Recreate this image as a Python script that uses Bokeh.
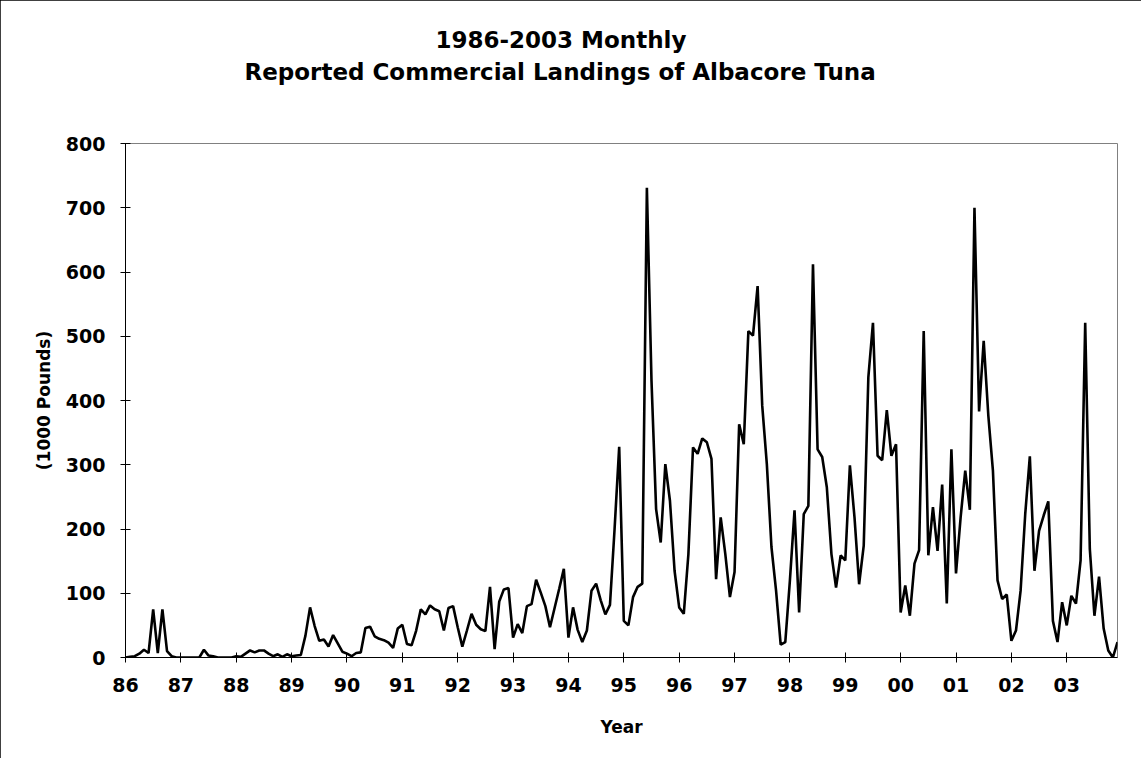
from bokeh.plotting import figure
from bokeh.models import Range1d, FixedTicker, Title, ColumnDataSource
from bokeh.embed import file_html
from bokeh.resources import INLINE

# Monthly landings (1000 pounds), Jan..Dec for each year
y1986 = [0, 1, 2, 6, 12, 7, 75, 7, 75, 10, 2, 0]
y1987 = [0, 0, 0, 0, 0, 12, 3, 2, 0, 0, 0, 0]
y1988 = [2, 1, 6, 11, 8, 11, 11, 6, 2, 5, 1, 5]
y1989 = [2, 3, 4, 34, 78, 49, 26, 28, 17, 35, 22, 9]
y1990 = [6, 2, 7, 8, 46, 48, 33, 29, 27, 23, 15, 45]
y1991 = [51, 21, 19, 42, 75, 67, 81, 75, 72, 42, 77, 80]
y1992 = [47, 17, 42, 68, 51, 44, 41, 110, 13, 87, 106, 108]
y1993 = [31, 52, 38, 80, 83, 121, 101, 80, 47, 77, 107, 138]
y1994 = [31, 78, 43, 24, 42, 104, 115, 89, 67, 82, 200, 328]
y1995 = [57, 50, 94, 110, 115, 731, 431, 231, 179, 301, 244, 135]
y1996 = [78, 68, 161, 327, 317, 341, 335, 309, 122, 218, 161, 94]
y1997 = [133, 363, 332, 508, 501, 578, 392, 301, 172, 104, 20, 24]
y1998 = [120, 229, 70, 223, 236, 612, 324, 312, 265, 161, 109, 159]
y1999 = [151, 299, 218, 114, 174, 436, 521, 314, 307, 385, 314, 332]
y2000 = [70, 112, 65, 146, 167, 508, 159, 234, 166, 269, 84, 324]
y2001 = [131, 218, 291, 230, 700, 383, 493, 377, 291, 120, 91, 98]
y2002 = [26, 42, 104, 223, 313, 135, 197, 221, 243, 57, 24, 86]
y2003 = [50, 96, 84, 151, 521, 169, 65, 126, 45, 11, 0, 24]

tick_labels = ["86", "87", "88", "89", "90", "91", "92", "93", "94",
               "95", "96", "97", "98", "99", "00", "01", "02", "03"]
y_ticks = [0, 100, 200, 300, 400, 500, 600, 700, 800]

values = (y1986 + y1987 + y1988 + y1989 + y1990 + y1991 + y1992 + y1993 + y1994 +
          y1995 + y1996 + y1997 + y1998 + y1999 + y2000 + y2001 + y2002 + y2003)
months = list(range(len(values)))
src = ColumnDataSource(dict(m=months, v=values))

FONT = "DejaVu Sans"

p = figure(width=1141, height=758, output_backend="svg", toolbar_location=None,
           x_range=Range1d(0, len(values) - 1), y_range=Range1d(0, 800),
           min_border_left=125, min_border_right=24, min_border_top=143,
           min_border_bottom=101)
p.styles = {"outline": "1px solid black", "outline-offset": "-1px"}
p.background_fill_color = "white"
p.border_fill_color = "white"
p.outline_line_color = "#808080"
p.outline_line_width = 1
p.xgrid.grid_line_color = None
p.ygrid.grid_line_color = None

p.line("m", "v", source=src, line_color="black", line_width=2.6)

tick_pos = [12 * k for k in range(len(tick_labels))]
p.xaxis.ticker = FixedTicker(ticks=tick_pos)
p.xaxis.major_label_overrides = {pos: lbl for pos, lbl in zip(tick_pos, tick_labels)}
p.yaxis.ticker = FixedTicker(ticks=y_ticks)

for ax in (p.xaxis[0], p.yaxis[0]):
    ax.axis_line_color = "black"
    ax.axis_line_width = 1
    ax.major_tick_line_color = "black"
    ax.major_tick_in = 5
    ax.major_tick_out = 5
    ax.minor_tick_line_color = None
    ax.major_label_text_font = FONT
    ax.major_label_text_font_style = "bold"
    ax.major_label_text_font_size = "19px"
    ax.major_label_text_color = "black"
    ax.axis_label_text_font = FONT
    ax.axis_label_text_font_style = "bold"
    ax.axis_label_text_font_size = "17px"
    ax.axis_label_text_color = "black"

p.xaxis.axis_label = "Year"
p.xaxis.major_label_standoff = 15
p.xaxis.axis_label_standoff = 22
p.yaxis.axis_label = "(1000 Pounds)"
p.yaxis.major_label_standoff = 15
p.yaxis.axis_label_standoff = 9

# Spacer between frame and title, then the two title lines (stacked outward)
p.add_layout(Title(text=" ", text_font_size="1px", standoff=56), "above")
p.add_layout(Title(text="Reported Commercial Landings of Albacore Tuna", align="left",
                   offset=119, standoff=0, text_font=FONT, text_font_style="bold",
                   text_font_size="23px", text_color="black"), "above")
p.add_layout(Title(text="1986-2003 Monthly", align="left", offset=310, standoff=8,
                   text_font=FONT, text_font_style="bold",
                   text_font_size="23px", text_color="black"), "above")

open("out.html", "w").write(file_html(p, INLINE))
